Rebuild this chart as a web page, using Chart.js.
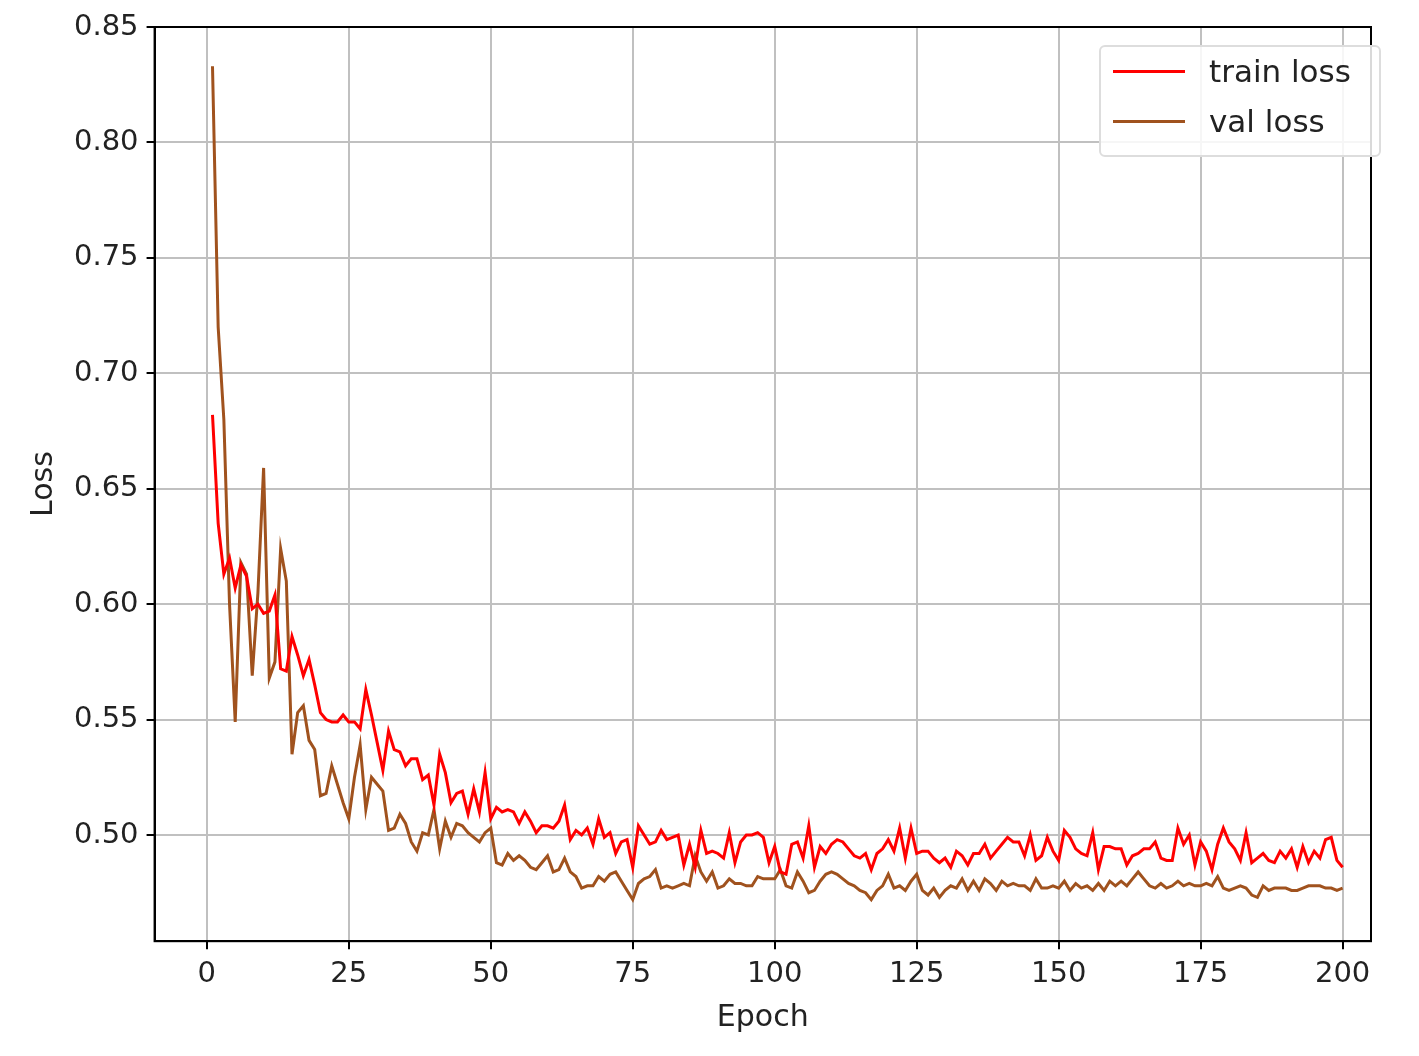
<!DOCTYPE html>
<html>
<head>
<meta charset="utf-8">
<script src="https://cdn.jsdelivr.net/npm/chart.js@4/dist/chart.umd.min.js"></script>
<style>
  body { margin: 0; background: #fff; }
  #wrap { position: relative; width: 1419px; height: 1056px; }
  #legend {
    position: absolute; left: 1099px; top: 45px; width: 282px; height: 112px;
    border: 2px solid #ddd; border-radius: 6px; background: rgba(255,255,255,0.85);
    font-family: "DejaVu Sans", sans-serif; font-size: 31px; color: #222;
    box-sizing: border-box;
  }
  .row { position: absolute; left: 12px; display: flex; align-items: center; }
  .sw { width: 72px; height: 0; border-top: 3px solid; margin-right: 24px; }
</style>
</head>
<body>
<div id="wrap">
  <canvas id="c" width="1419" height="1056"></canvas>
  <div id="legend">
    <div class="row" style="top:6px"><span class="sw" style="border-color:#ff0000"></span>train loss</div>
    <div class="row" style="top:56px"><span class="sw" style="border-color:#a0521e"></span>val loss</div>
  </div>
</div>
<script>
const trainLoss = [
  0.682,0.635,0.613,0.620,0.607,0.617,0.612,0.598,0.600,0.596,
  0.597,0.604,0.572,0.571,0.586,0.578,0.569,0.576,0.565,0.553,
  0.550,0.549,0.549,0.552,0.549,0.549,0.546,0.563,0.552,0.540,
  0.528,0.545,0.537,0.536,0.530,0.533,0.533,0.524,0.526,0.513,
  0.535,0.527,0.514,0.518,0.519,0.509,0.520,0.510,0.527,0.507,
  0.512,0.510,0.511,0.510,0.505,0.510,0.506,0.501,0.504,0.504,
  0.503,0.506,0.513,0.498,0.502,0.500,0.503,0.496,0.507,0.499,
  0.501,0.492,0.497,0.498,0.486,0.504,0.500,0.496,0.497,0.502,
  0.498,0.499,0.500,0.487,0.496,0.486,0.502,0.492,0.493,0.492,
  0.490,0.501,0.488,0.497,0.500,0.500,0.501,0.499,0.488,0.495,
  0.484,0.483,0.496,0.497,0.490,0.504,0.486,0.495,0.492,0.496,
  0.498,0.497,0.494,0.491,0.490,0.492,0.485,0.492,0.494,0.498,
  0.493,0.503,0.490,0.503,0.492,0.493,0.493,0.490,0.488,0.490,
  0.486,0.493,0.491,0.487,0.492,0.492,0.496,0.490,0.493,0.496,
  0.499,0.497,0.497,0.491,0.500,0.489,0.491,0.499,0.493,0.489,
  0.502,0.499,0.494,0.492,0.491,0.501,0.485,0.495,0.495,0.494,
  0.494,0.487,0.491,0.492,0.494,0.494,0.497,0.490,0.489,0.489,
  0.503,0.496,0.500,0.487,0.497,0.493,0.485,0.496,0.503,0.497,
  0.494,0.489,0.501,0.488,0.490,0.492,0.489,0.488,0.493,0.490,
  0.494,0.486,0.495,0.488,0.493,0.490,0.498,0.499,0.489,0.486
];
const valLoss = [
  0.833,0.720,0.680,0.600,0.549,0.618,0.613,0.569,0.605,0.659,
  0.568,0.575,0.624,0.610,0.535,0.553,0.556,0.541,0.537,0.517,
  0.518,0.530,0.522,0.514,0.507,0.525,0.539,0.511,0.525,0.522,
  0.519,0.502,0.503,0.509,0.505,0.497,0.493,0.501,0.500,0.511,
  0.494,0.506,0.499,0.505,0.504,0.501,0.499,0.497,0.501,0.503,
  0.488,0.487,0.492,0.489,0.491,0.489,0.486,0.485,0.488,0.491,
  0.484,0.485,0.490,0.484,0.482,0.477,0.478,0.478,0.482,0.480,
  0.483,0.484,0.480,0.476,0.472,0.479,0.481,0.482,0.485,0.477,
  0.478,0.477,0.478,0.479,0.478,0.491,0.484,0.480,0.484,0.477,
  0.478,0.481,0.479,0.479,0.478,0.478,0.482,0.481,0.481,0.481,
  0.485,0.478,0.477,0.484,0.480,0.475,0.476,0.480,0.483,0.484,
  0.483,0.481,0.479,0.478,0.476,0.475,0.472,0.476,0.478,0.483,
  0.477,0.478,0.476,0.480,0.483,0.476,0.474,0.477,0.473,0.476,
  0.478,0.477,0.481,0.476,0.480,0.476,0.481,0.479,0.476,0.480,
  0.478,0.479,0.478,0.478,0.476,0.481,0.477,0.477,0.478,0.477,
  0.480,0.476,0.479,0.477,0.478,0.476,0.479,0.476,0.480,0.478,
  0.480,0.478,0.481,0.484,0.481,0.478,0.477,0.479,0.477,0.478,
  0.480,0.478,0.479,0.478,0.478,0.479,0.478,0.482,0.477,0.476,
  0.477,0.478,0.477,0.474,0.473,0.478,0.476,0.477,0.477,0.477,
  0.476,0.476,0.477,0.478,0.478,0.478,0.477,0.477,0.476,0.477
];
const epochs = trainLoss.map((_, i) => i + 1);
const xTicks = [0, 25, 50, 75, 100, 125, 150, 175, 200];
const yTicks = [0.50, 0.55, 0.60, 0.65, 0.70, 0.75, 0.80, 0.85];

const frame = {
  id: 'frame',
  afterDraw(chart) {
    const a = chart.chartArea, ctx = chart.ctx;
    ctx.save();
    ctx.strokeStyle = '#000';
    ctx.lineWidth = 2;
    ctx.strokeRect(a.left, a.top, a.right - a.left, a.bottom - a.top);
    ctx.restore();
  }
};

const font = { family: 'DejaVu Sans', size: 29 };

new Chart(document.getElementById('c'), {
  type: 'line',
  data: {
    datasets: [
      { label: 'train loss', data: epochs.map((e, i) => ({ x: e, y: trainLoss[i] })),
        borderColor: '#ff0000', borderWidth: 3, pointRadius: 0, tension: 0 },
      { label: 'val loss', data: epochs.map((e, i) => ({ x: e, y: valLoss[i] })),
        borderColor: '#a0521e', borderWidth: 3, pointRadius: 0, tension: 0 }
    ]
  },
  options: {
    responsive: false,
    animation: false,
    layout: { padding: { top: 27, right: 48, left: 22, bottom: 16 } },
    plugins: { legend: { display: false }, tooltip: { enabled: false } },
    scales: {
      x: {
        type: 'linear', min: -9.2, max: 205,
        afterBuildTicks: s => { s.ticks = xTicks.map(v => ({ value: v })); },
        ticks: { font, color: '#222', padding: 8 },
        grid: { color: '#c0c0c0', lineWidth: 2, tickLength: 8, tickColor: '#000' },
        border: { color: '#000', width: 2 },
        title: { display: true, text: 'Epoch', font: { family: 'DejaVu Sans', size: 30 }, color: '#222', padding: { top: 0 } }
      },
      y: {
        min: 0.454, max: 0.85,
        afterBuildTicks: s => { s.ticks = yTicks.map(v => ({ value: v })); },
        ticks: { font, color: '#222', padding: 8, callback: v => v.toFixed(2) },
        grid: { color: '#c0c0c0', lineWidth: 2, tickLength: 8, tickColor: '#000' },
        border: { color: '#000', width: 2 },
        title: { display: true, text: 'Loss', font: { family: 'DejaVu Sans', size: 30 }, color: '#222', padding: { bottom: 4 } }
      }
    }
  },
  plugins: [frame]
});
</script>
</body>
</html>
